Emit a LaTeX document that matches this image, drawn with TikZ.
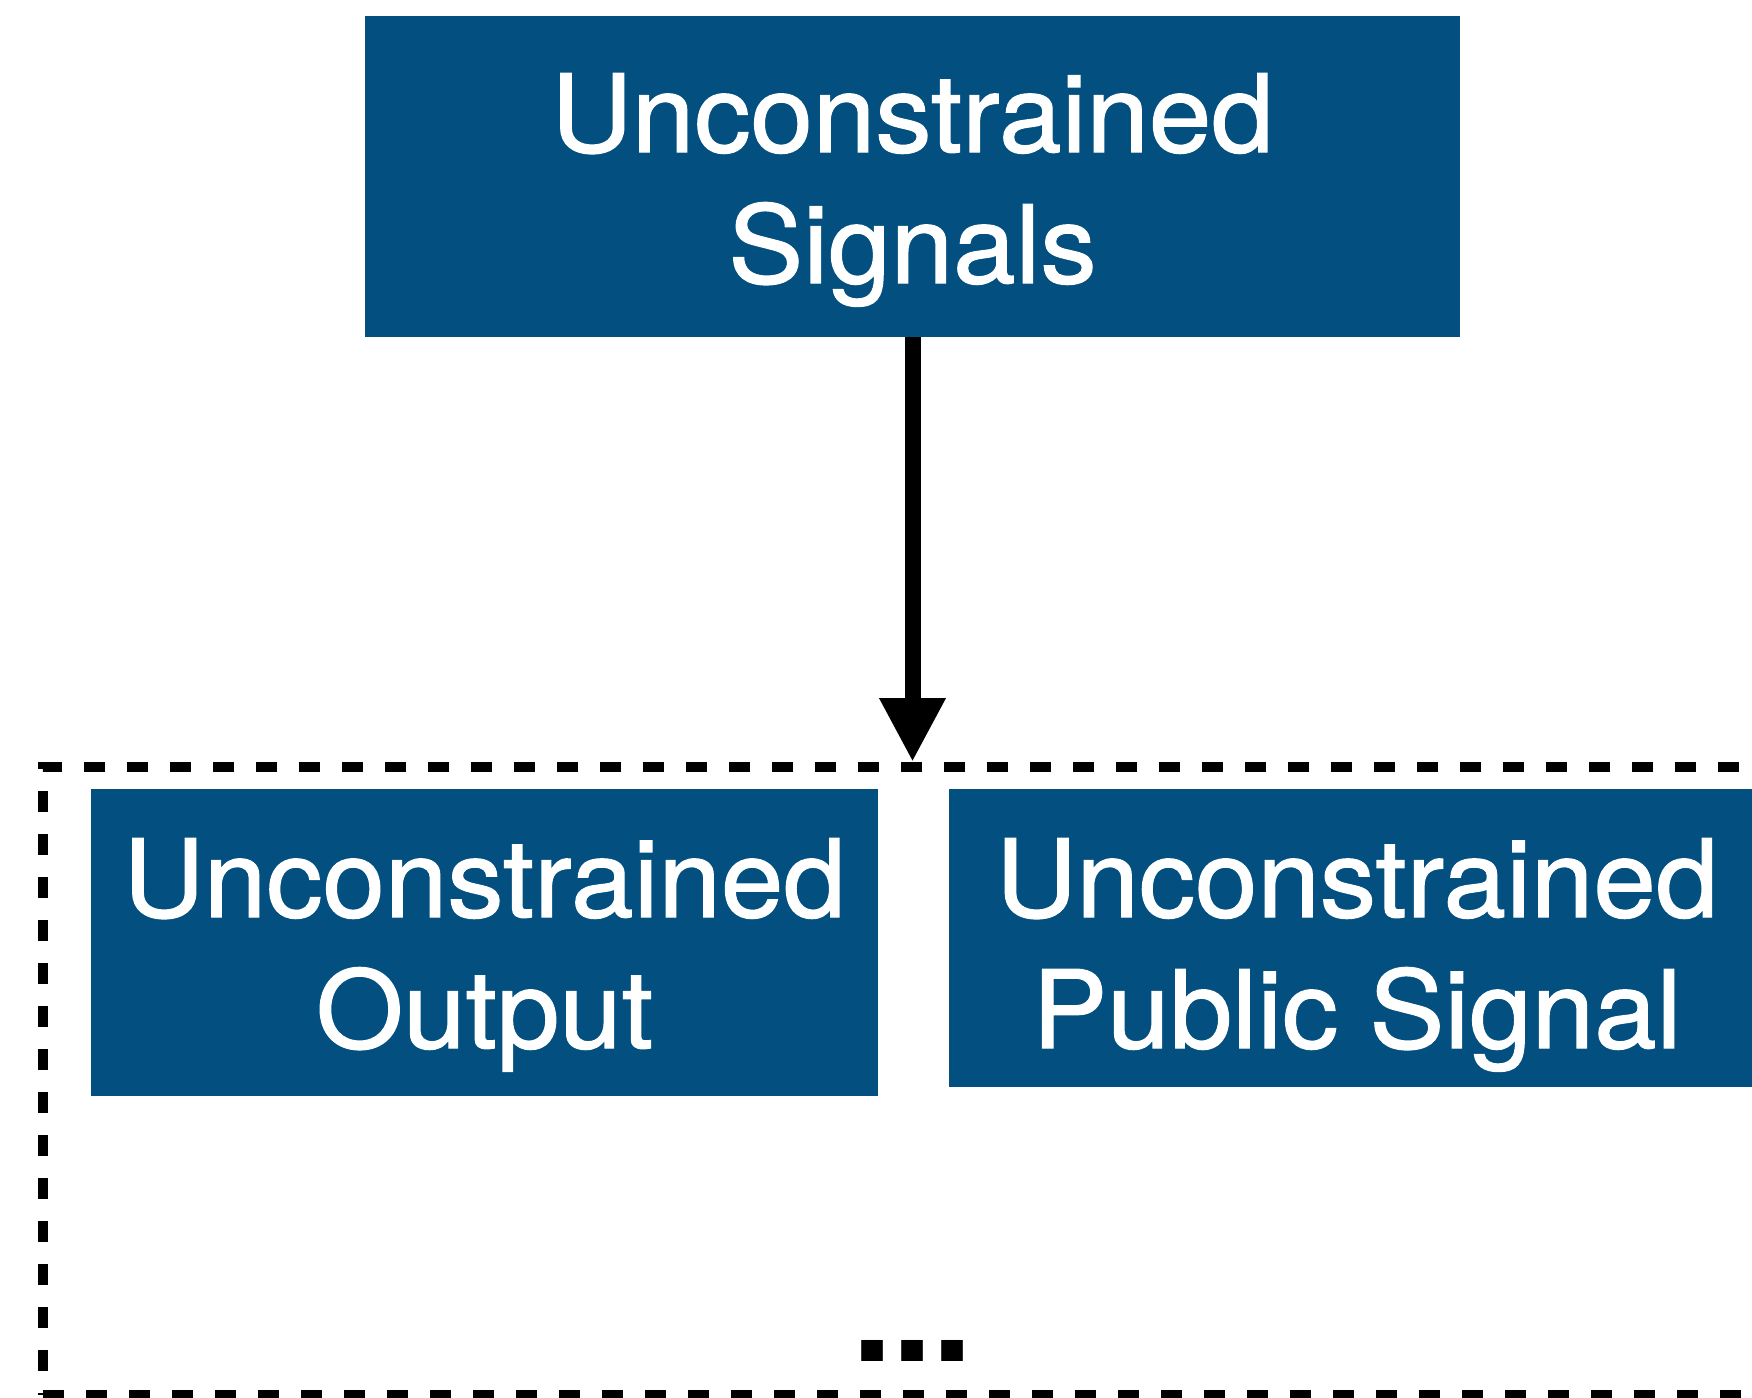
\documentclass[tikz,border=0pt]{standalone}
\usepackage{fontspec}
\setmainfont{TeX Gyre Heros}[FakeStretch=1.04, FakeBold=1.2]
\newfontfamily\dotsfont{TeX Gyre Heros}
\usetikzlibrary{arrows.meta}
\definecolor{boxblue}{RGB}{2,79,128}
% two centred lines whose first baseline sits #1 above the node centre
\newcommand{\blocktext}[3]{\raisebox{#1}[0pt][0pt]{\begin{tabular}[t]{@{}c@{}}#2\\#3\end{tabular}}}

\begin{document}
\begin{tikzpicture}[x=0.5pt,y=-0.5pt,
  bluebox/.style={fill=boxblue, text=white, inner sep=0pt, outer sep=0pt,
    font=\fontsize{54}{65.5}\selectfont},
  groupframe/.style={draw=black, line width=5pt, dash pattern=on 10.5pt off 11pt,
    inner sep=0pt, outer sep=0pt},
  flow/.style={draw=black, line width=8pt, -{Triangle[length=32pt,width=31pt]}}]
\useasboundingbox (0,0) rectangle (1752,1398);
\clip (0,0) rectangle (1752,1398);

% dashed group around the two lower blocks
\node[groupframe, minimum width=869pt, minimum height=314pt] (group) at (912,1081) {};

% blocks
\node[bluebox, minimum width=547.5pt, minimum height=160.5pt] (signals) at (912.5,176.5)
  {\blocktext{12.25pt}{Unconstrained}{Signals}};
\node[bluebox, minimum width=393.5pt, minimum height=153.5pt] (output) at (484.5,942.5)
  {\blocktext{12.75pt}{Unconstrained}{Output}};
\node[bluebox, minimum width=408pt, minimum height=149pt] (public) at (1357,938)
  {\blocktext{10.5pt}{Unconstrained}{Public Signal}};

% ellipsis inside the group
\node[font=\dotsfont\bfseries\fontsize{72}{72}\selectfont, inner sep=0pt, anchor=base] (more) at (912.5,1361) {...};

% connector into the group
\coordinate (entry) at ([yshift=2.5pt]signals.south |- group.north);
\draw[flow] (signals.south) -- (entry);
\end{tikzpicture}
\end{document}
